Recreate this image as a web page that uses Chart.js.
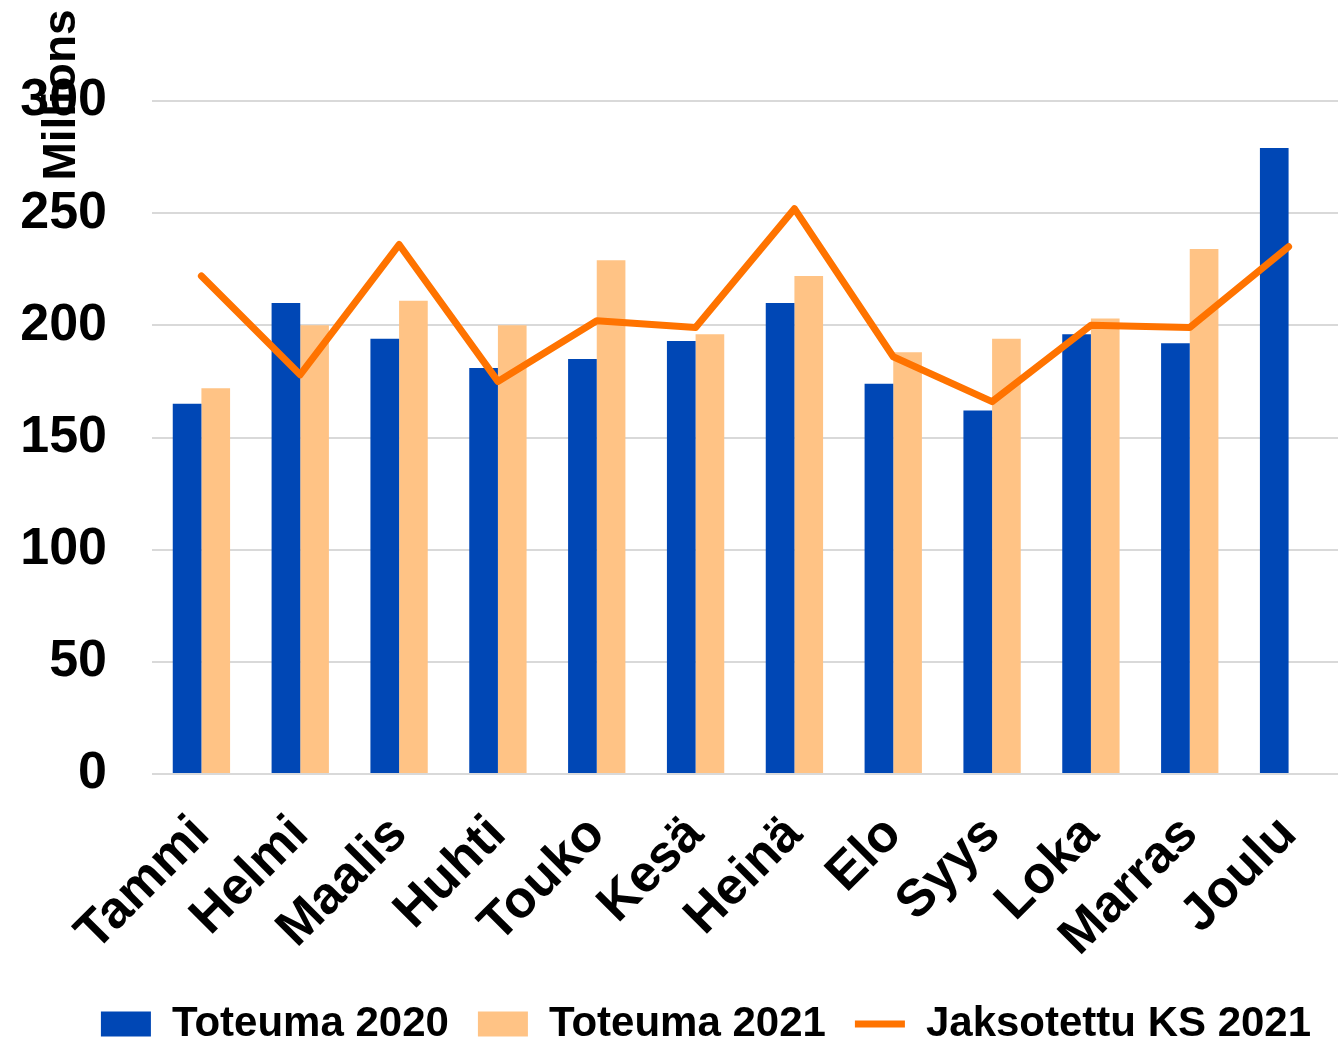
<!DOCTYPE html>
<html>
<head>
<meta charset="utf-8">
<script src="https://cdn.jsdelivr.net/npm/chart.js@4/dist/chart.umd.min.js"></script>
<style>
  body { margin: 0; background: #fff; }
  #wrap { width: 1343px; height: 1037px; }
</style>
</head>
<body>
<div id="wrap"><canvas id="chart" width="1343" height="1037"></canvas></div>
<script>
var months = ["Tammi", "Helmi", "Maalis", "Huhti", "Touko", "Kesä", "Heinä", "Elo", "Syys", "Loka", "Marras", "Joulu"];
var toteuma2020 = [165, 210, 194, 181, 185, 193, 210, 174, 162, 196, 192, 279];
var toteuma2021 = [172, 200, 211, 200, 229, 196, 222, 188, 194, 203, 234, null];
var jaksotettuKS2021 = [222, 178, 236, 175, 202, 199, 252, 186, 166, 200, 199, 235];
var yTicks = [0, 50, 100, 150, 200, 250, 300];

var font = "'Liberation Sans', Arial, sans-serif";

var unitTitle = {
    id: 'unitTitle',
    afterLayout: function(chart) {
        // shift the legend so it is centred like the original
        chart.legend.left += 37;
        chart.legend.right += 37;
    },
    afterDraw: function(chart) {
        var ctx = chart.ctx;
        ctx.save();
        ctx.translate(75, 95);
        ctx.rotate(-Math.PI / 2);
        ctx.font = "bold 46px " + font;
        ctx.fillStyle = "#000";
        ctx.textAlign = "center";
        ctx.textBaseline = "alphabetic";
        ctx.fillText("Millions", 0, 0);
        ctx.restore();
    }
};

function chart(name) {
    var myChart = new Chart(document.getElementById(name), {
        type: 'bar',
        data: {
            labels: months,
            datasets: [{
                label: "Toteuma 2020",
                backgroundColor: "#0047b5",
                data: toteuma2020,
                pointStyle: 'rect',
                order: 1
            }, {
                label: "Toteuma 2021",
                backgroundColor: "#ffc385",
                data: toteuma2021,
                pointStyle: 'rect',
                order: 1
            }, {
                type: 'line',
                label: "Jaksotettu KS 2021",
                borderColor: "#ff7300",
                backgroundColor: "#ff7300",
                borderWidth: 7,
                borderCapStyle: 'round',
                borderJoinStyle: 'round',
                pointRadius: 0,
                pointStyle: 'line',
                data: jaksotettuKS2021,
                order: 0
            }]
        },
        options: {
            responsive: false,
            animation: false,
            layout: {
                padding: { left: 0, right: 5, top: 101, bottom: -18 }
            },
            datasets: {
                bar: { barPercentage: 1, categoryPercentage: 0.58 }
            },
            scales: {
                x: {
                    grid: { display: false },
                    border: { display: false },
                    ticks: {
                        autoSkip: false,
                        minRotation: 45,
                        maxRotation: 45,
                        padding: 22,
                        color: "#000",
                        font: { family: font, size: 52, weight: 'bold' }
                    },
                    afterFit: function(s) {
                        s.height = 200;
                        s.paddingLeft = 0;
                        s.paddingRight = 0;
                    }
                },
                y: {
                    min: 0,
                    max: 300,
                    afterBuildTicks: function(s) {
                        s.ticks = yTicks.map(function(v) { return { value: v }; });
                    },
                    grid: { color: "#d9d9d9", lineWidth: 2, drawTicks: false },
                    border: { display: false },
                    ticks: {
                        padding: 45,
                        color: "#000",
                        font: { family: font, size: 52, weight: 'bold' }
                    },
                    afterFit: function(s) { s.width = 152; }
                }
            },
            plugins: {
                title: { display: false },
                tooltip: { enabled: false },
                legend: {
                    display: true,
                    position: 'bottom',
                    labels: {
                        usePointStyle: true,
                        pointStyleWidth: 50,
                        boxWidth: 50,
                        boxHeight: 25,
                        padding: 29,
                        color: "#000",
                        sort: function(a, b) { return a.datasetIndex - b.datasetIndex; },
                        font: { family: font, size: 42, weight: 'bold', lineHeight: 0.8 }
                    }
                }
            }
        },
        plugins: [unitTitle]
    });

    return myChart;
}

chart("chart");
</script>
</body>
</html>
